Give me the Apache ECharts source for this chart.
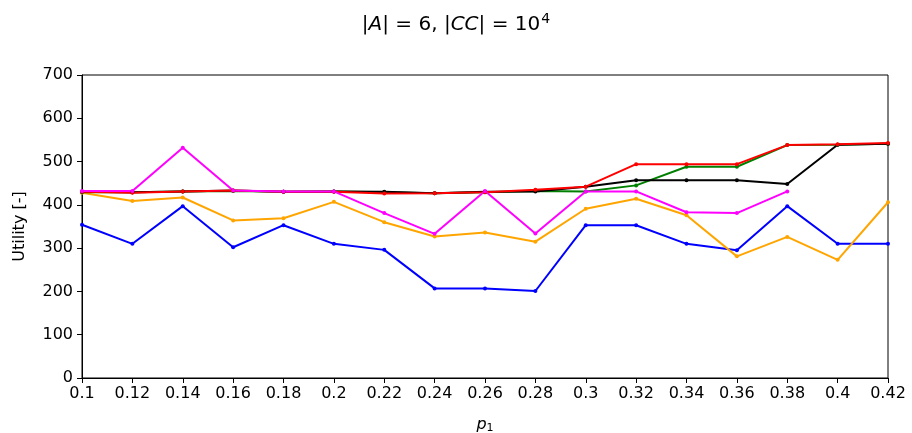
<!DOCTYPE html>
<html><head><meta charset="utf-8">
<script src="https://cdn.jsdelivr.net/npm/echarts@6/dist/echarts.min.js"></script>
<style>html,body{margin:0;padding:0;background:#fff}#c{width:912px;height:433px}</style>
</head><body><div id="c"></div>
<script>
const categories = ['0.1','0.12','0.14','0.16','0.18','0.2','0.22','0.24','0.26','0.28','0.3','0.32','0.34','0.36','0.38','0.4','0.42'];
const yTicks = [0,100,200,300,400,500,600,700];
const blue    = [354,310,397,302,353,310,296,207,207,201,353,353,310,295,397,310,310];
const orange  = [428,409,417,364,369,407,360,327,336,315,391,414,376,281,326,273,406];
const magenta = [432,432,532,433,431,431,381,333,432,334,431,431,383,381,431,null,null];
const green   = [429,429,431,432,430,431,429,427,429,432,431,445,488,488,538,539,541];
const black   = [430,429,431,433,430,431,430,427,430,431,442,457,457,457,448,539,541];
const red     = [430,428,431,433,430,430,426,427,429,435,442,494,494,494,538,540,543];

const font = 'DejaVu Sans';
function s(name, data, color){
  return {name, type:'line', data, symbol:'circle', symbolSize:4, showSymbol:true,
    lineStyle:{color, width:2}, itemStyle:{color}, animation:false, connectNulls:false};
}
const chart = echarts.init(document.getElementById('c'), null, {renderer:'canvas'});
chart.setOption({
  animation:false,
  title:{
    text:'{n||}{i|A}{n|| = 6, |}{i|CC}{n|| = 10}{sup|4}',
    left:'center', top:7,
    textStyle:{fontWeight:'normal',rich:{
      n:{fontFamily:font,fontSize:20,fontWeight:'normal',color:'#000'},
      i:{fontFamily:font,fontSize:20,fontWeight:'normal',fontStyle:'italic',color:'#000'},
      sup:{fontFamily:font,fontSize:14,fontWeight:'normal',color:'#000',verticalAlign:'top',padding:[0,0,12,1]}
    }}
  },
  grid:{left:82,right:24,top:75,bottom:55,show:true,borderColor:'#000',borderWidth:1,outerBoundsMode:'none',containLabel:false},
  xAxis:{
    type:'category', data:categories, boundaryGap:false,
    name:'{i|p}{sub|1}', nameLocation:'middle', nameGap:37,
    nameTextStyle:{rich:{
      i:{fontFamily:font,fontSize:16,fontStyle:'italic',color:'#000'},
      sub:{fontFamily:font,fontSize:11,color:'#000',verticalAlign:'bottom',padding:[8,0,0,0]}
    }},
    axisLine:{lineStyle:{color:'#000',width:1}},
    axisTick:{show:true,alignWithLabel:true,length:5,lineStyle:{color:'#000'}},
    axisLabel:{fontFamily:font,fontSize:16,color:'#000',margin:8,interval:0},
    splitLine:{show:false}
  },
  yAxis:{
    type:'value', min:0, max:700, interval:100,
    name:'Utility [-]', nameLocation:'middle', nameGap:54, nameRotate:90,
    nameTextStyle:{fontFamily:font,fontSize:16,color:'#000'},
    axisLine:{show:true,lineStyle:{color:'#000',width:1}},
    axisTick:{show:true,length:5,lineStyle:{color:'#000'}},
    axisLabel:{fontFamily:font,fontSize:16,color:'#000',margin:9,
      formatter:v=>yTicks.includes(v)?String(v):''},
    splitLine:{show:false}
  },
  series:[
    s('blue',blue,'#0000ff'),
    s('orange',orange,'#ffa500'),
    s('green',green,'#008000'),
    s('black',black,'#000000'),
    s('red',red,'#ff0000'),
    s('magenta',magenta,'#ff00ff')
  ]
});
</script></body></html>
